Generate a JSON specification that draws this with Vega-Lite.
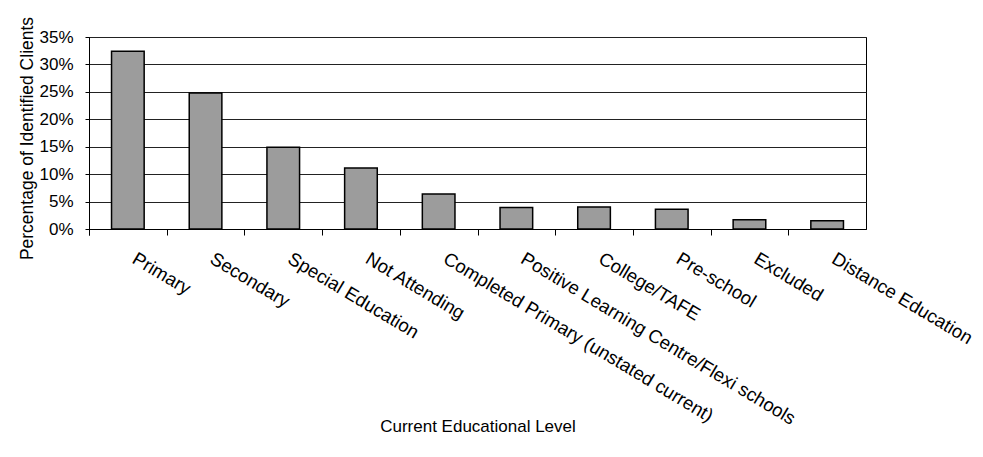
{
  "$schema": "https://vega.github.io/schema/vega-lite/v6.json",
  "width": 777,
  "height": 192,
  "autosize": "none",
  "padding": {"left": 89, "top": 37, "right": 117, "bottom": 228},
  "background": "white",
  "config": {
    "font": "Liberation Sans",
    "view": {"stroke": "black", "strokeWidth": 1}
  },
  "data": {
    "values": [
      {"level": "Primary", "pct": 0.324},
      {"level": "Secondary", "pct": 0.248},
      {"level": "Special Education", "pct": 0.149},
      {"level": "Not Attending", "pct": 0.111},
      {"level": "Completed Primary (unstated current)", "pct": 0.064},
      {"level": "Positive Learning Centre/Flexi schools", "pct": 0.039},
      {"level": "College/TAFE", "pct": 0.040},
      {"level": "Pre-school", "pct": 0.036},
      {"level": "Excluded", "pct": 0.017},
      {"level": "Distance Education", "pct": 0.015}
    ]
  },
  "mark": {"type": "bar", "fill": "#9c9c9c", "stroke": "black", "strokeWidth": 1.5},
  "encoding": {
    "x": {
      "field": "level",
      "type": "nominal",
      "sort": null,
      "scale": {"paddingInner": 0.58, "paddingOuter": 0.29},
      "axis": {
        "title": "Current Educational Level",
        "labelAngle": 31,
        "labelAlign": "left",
        "labelBaseline": "top",
        "labelFontSize": 18.6,
        "labelColor": "black",
        "labelPadding": 14,
        "labelOffset": 33,
        "labelLimit": 0,
        "labelOverlap": false,
        "bandPosition": 0,
        "tickOffset": -22.5,
        "tickExtra": true,
        "tickSize": 6,
        "tickColor": "black",
        "domainColor": "black",
        "titleFontSize": 17,
        "titleFontWeight": "normal",
        "titleColor": "black",
        "titleY": 202,
        "titleBaseline": "alphabetic"
      }
    },
    "y": {
      "field": "pct",
      "type": "quantitative",
      "scale": {"domain": [0, 0.35], "nice": false},
      "axis": {
        "values": [0, 0.05, 0.1, 0.15, 0.2, 0.25, 0.3, 0.35],
        "format": ".0%",
        "title": "Percentage of Identified Clients",
        "grid": true,
        "gridColor": "#222222",
        "gridOpacity": 1,
        "tickSize": 4,
        "tickColor": "black",
        "domainColor": "black",
        "labelFontSize": 17,
        "labelColor": "black",
        "labelPadding": 12,
        "titleFontSize": 17.5,
        "titleFontWeight": "normal",
        "titleColor": "black",
        "titleX": -57,
        "titleY": 101,
        "titleBaseline": "alphabetic"
      }
    }
  }
}
